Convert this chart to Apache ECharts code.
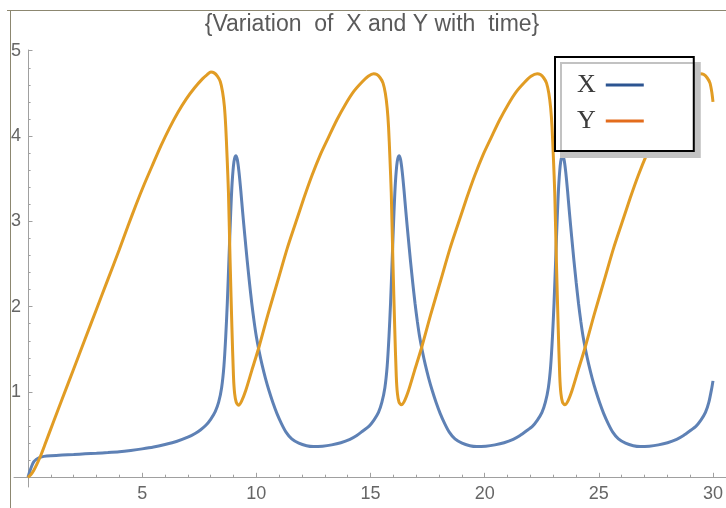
<!DOCTYPE html>
<html>
<head>
<meta charset="utf-8">
<script src="https://cdn.jsdelivr.net/npm/echarts@6/dist/echarts.min.js"></script>
<style>
html,body{margin:0;padding:0;background:#fff;}
#chart{width:726px;height:508px;}
</style>
</head>
<body>
<div id="chart"></div>
<script>
// ---- data ----
const tX = [0.00,0.08,0.16,0.25,0.36,0.50,0.70,1.00,1.50,2.00,2.50,3.00,3.50,4.00,4.50,5.00,5.50,6.00,6.50,7.00,7.30,7.55,7.79,8.00,8.20,8.35,8.48,8.58,8.66,8.73,8.80,8.87,8.94,9.02,9.10,9.17,9.24,9.32,9.40,9.50,9.60,9.70,9.80,9.90,10.00,10.12,10.25,10.40,10.55,10.72,10.90,11.10,11.30,11.55,11.86,12.20,12.50,12.90,13.30,13.70,14.10,14.40,14.65,14.94,15.15,15.35,15.50,15.63,15.73,15.81,15.88,15.95,16.02,16.09,16.17,16.25,16.32,16.39,16.47,16.55,16.65,16.75,16.85,16.95,17.05,17.15,17.27,17.40,17.55,17.70,17.87,18.05,18.25,18.45,18.70,19.01,19.35,19.65,20.05,20.45,20.85,21.25,21.55,21.81,22.10,22.31,22.51,22.66,22.79,22.89,22.97,23.04,23.11,23.18,23.25,23.33,23.41,23.48,23.55,23.63,23.71,23.81,23.91,24.01,24.11,24.21,24.31,24.43,24.56,24.71,24.86,25.03,25.21,25.41,25.61,25.86,26.17,26.51,26.81,27.21,27.61,28.01,28.41,28.71,28.97,29.26,29.47,29.67,29.82,29.95,30.00];
const xVals = [0.00,0.07,0.13,0.18,0.21,0.23,0.245,0.253,0.26,0.267,0.275,0.282,0.29,0.30,0.315,0.333,0.355,0.385,0.42,0.47,0.51,0.555,0.61,0.68,0.77,0.88,1.05,1.30,1.65,2.05,2.55,3.05,3.45,3.70,3.77,3.72,3.58,3.36,3.11,2.82,2.54,2.28,2.04,1.83,1.65,1.48,1.32,1.16,1.02,0.88,0.75,0.63,0.53,0.45,0.40,0.37,0.36,0.365,0.38,0.405,0.445,0.49,0.54,0.60,0.67,0.76,0.88,1.05,1.30,1.65,2.05,2.55,3.05,3.45,3.70,3.77,3.72,3.58,3.36,3.11,2.82,2.54,2.28,2.04,1.83,1.65,1.48,1.32,1.16,1.02,0.88,0.75,0.63,0.53,0.45,0.40,0.37,0.36,0.365,0.38,0.405,0.445,0.49,0.54,0.60,0.67,0.76,0.88,1.05,1.30,1.65,2.05,2.55,3.05,3.45,3.70,3.77,3.72,3.58,3.36,3.11,2.82,2.54,2.28,2.04,1.83,1.65,1.48,1.32,1.16,1.02,0.88,0.75,0.63,0.53,0.45,0.40,0.37,0.36,0.365,0.38,0.405,0.445,0.49,0.54,0.60,0.67,0.76,0.88,1.05,1.13];
const tY = [0.00,0.12,0.25,0.40,0.55,0.75,1.10,1.50,2.00,2.50,3.00,3.50,4.00,4.37,4.74,5.10,5.47,5.83,6.19,6.55,6.92,7.28,7.64,7.85,8.01,8.15,8.30,8.42,8.52,8.60,8.66,8.72,8.78,8.85,8.93,9.00,9.05,9.12,9.22,9.35,9.54,9.80,10.12,10.50,10.99,11.35,11.72,12.08,12.44,12.80,13.17,13.53,13.90,14.26,14.62,14.90,15.14,15.28,15.43,15.55,15.65,15.73,15.79,15.85,15.91,15.98,16.06,16.13,16.18,16.25,16.35,16.48,16.67,16.93,17.25,17.63,18.12,18.48,18.85,19.21,19.57,19.93,20.30,20.66,21.03,21.39,21.75,22.03,22.30,22.44,22.59,22.71,22.81,22.89,22.95,23.01,23.07,23.14,23.22,23.29,23.34,23.41,23.51,23.64,23.83,24.09,24.41,24.79,25.28,25.64,26.01,26.37,26.73,27.09,27.46,27.82,28.19,28.55,28.91,29.19,29.46,29.60,29.75,29.87,29.95,30.00];
const yVals = [0.00,0.03,0.08,0.16,0.25,0.39,0.64,0.92,1.27,1.62,1.97,2.32,2.67,2.94,3.20,3.44,3.67,3.89,4.09,4.27,4.43,4.56,4.67,4.72,4.75,4.74,4.70,4.64,4.52,4.35,4.11,3.75,3.33,2.55,1.76,1.18,0.98,0.88,0.845,0.89,1.02,1.25,1.53,1.90,2.35,2.68,2.98,3.27,3.54,3.78,3.99,4.19,4.37,4.52,4.63,4.70,4.73,4.72,4.68,4.62,4.50,4.33,4.11,3.75,3.33,2.55,1.76,1.18,0.98,0.88,0.85,0.89,1.02,1.25,1.53,1.90,2.35,2.68,2.98,3.27,3.54,3.78,3.99,4.19,4.37,4.52,4.63,4.70,4.73,4.72,4.68,4.62,4.50,4.33,4.11,3.75,3.33,2.55,1.76,1.18,0.98,0.88,0.85,0.89,1.02,1.25,1.53,1.90,2.35,2.68,2.98,3.27,3.54,3.78,3.99,4.19,4.37,4.52,4.63,4.70,4.73,4.72,4.68,4.62,4.51,4.40];
const seriesNames = ['X', 'Y'];
const xTickStep = 5;      // labelled ticks 5,10,...,30 (minor every 1)
const yTickStep = 1;      // labelled ticks 1,...,5 (minor every 0.2)
const titleText = '{Variation  of  X and Y with  time}';

// ---- chart ----
const axisGrey = '#a0a0a0';
const labelGrey = '#666666';
const sansFont = '"Liberation Sans", Arial, sans-serif';

function pairs(ts, vs) { return ts.map((t, i) => [t, vs[i]]); }
function hideZero(v) { return v === 0 ? '' : String(v); }

const chart = echarts.init(document.getElementById('chart'), null, {renderer: 'canvas'});

chart.setOption({
  animation: false,
  backgroundColor: '#ffffff',
  title: {
    text: titleText,
    left: 367,
    top: 8,
    textAlign: 'center',
    textStyle: {fontFamily: sansFont, fontSize: 23, fontWeight: 'normal', color: '#5a5a5a'}
  },
  grid: [
    {left: 14, right: 0, top: 50, bottom: 21, containLabel: false},
    {left: 28, right: 8.7, top: 50.7, bottom: 30.7, containLabel: false}
  ],
  xAxis: [
    {
      gridIndex: 0, type: 'value', min: -0.609, max: 30.37, position: 'bottom',
      axisLine: {show: true, onZero: true, lineStyle: {color: axisGrey, width: 1}},
      axisTick: {show: false}, axisLabel: {show: false}, splitLine: {show: false}
    },
    {
      gridIndex: 1, type: 'value', min: 0, max: 30, interval: xTickStep, position: 'bottom',
      axisLine: {show: false},
      axisTick: {show: true, inside: true, length: 4.5, lineStyle: {color: axisGrey}},
      minorTick: {show: true, splitNumber: 5, length: 2.6, lineStyle: {color: axisGrey}},
      axisLabel: {show: true, margin: 8, formatter: hideZero, fontFamily: sansFont, fontSize: 18, color: labelGrey},
      splitLine: {show: false}, minorSplitLine: {show: false}
    }
  ],
  yAxis: [
    {
      gridIndex: 0, type: 'value', min: -0.114, max: 5.01, position: 'left',
      axisLine: {show: true, onZero: true, lineStyle: {color: axisGrey, width: 1}},
      axisTick: {show: false}, axisLabel: {show: false}, splitLine: {show: false}
    },
    {
      gridIndex: 1, type: 'value', min: 0, max: 5, interval: yTickStep, position: 'left',
      axisLine: {show: false},
      axisTick: {show: true, inside: true, length: 4.5, lineStyle: {color: axisGrey}},
      minorTick: {show: true, splitNumber: 5, length: 2.6, lineStyle: {color: axisGrey}},
      axisLabel: {show: true, margin: 7, formatter: hideZero, fontFamily: sansFont, fontSize: 18, color: labelGrey},
      splitLine: {show: false}, minorSplitLine: {show: false}
    }
  ],
  legend: {
    show: true,
    orient: 'vertical',
    left: 555,
    top: 57,
    align: 'right',
    icon: 'rect',
    itemWidth: 38,
    itemHeight: 3,
    itemGap: 6,
    padding: [13, 50, 15, 22],
    backgroundColor: '#ffffff',
    borderColor: '#000000',
    borderWidth: 2,
    shadowColor: '#c2c2c2',
    shadowBlur: 0,
    shadowOffsetX: 6,
    shadowOffsetY: 6,
    textStyle: {fontFamily: '"Liberation Serif", "Times New Roman", serif', fontSize: 26, color: '#3c3c3c', lineHeight: 30, padding: [0, 5, 0, 0]},
    data: [
      {name: seriesNames[0], itemStyle: {color: '#2c5491'}},
      {name: seriesNames[1], itemStyle: {color: '#e36c1c'}}
    ]
  },
  graphic: [
    {type: 'line', shape: {x1: 7, y1: 10.5, x2: 726, y2: 10.5}, style: {stroke: '#8c8770', lineWidth: 1}, z: 100},
    {type: 'line', shape: {x1: 10.5, y1: 10, x2: 10.5, y2: 508}, style: {stroke: '#8c8770', lineWidth: 1}, z: 100}
  ],
  series: [
    {
      name: seriesNames[0], type: 'line', xAxisIndex: 1, yAxisIndex: 1,
      data: pairs(tX, xVals), showSymbol: false, symbol: 'none', clip: false,
      smooth: 0.25,
      lineStyle: {color: '#5e81b5', width: 3}, itemStyle: {color: '#5e81b5'}, z: 3
    },
    {
      name: seriesNames[1], type: 'line', xAxisIndex: 1, yAxisIndex: 1,
      data: pairs(tY, yVals), showSymbol: false, symbol: 'none', clip: false,
      smooth: 0.25,
      lineStyle: {color: '#e19c24', width: 3}, itemStyle: {color: '#e19c24'}, z: 3
    }
  ]
});
</script>
</body>
</html>
